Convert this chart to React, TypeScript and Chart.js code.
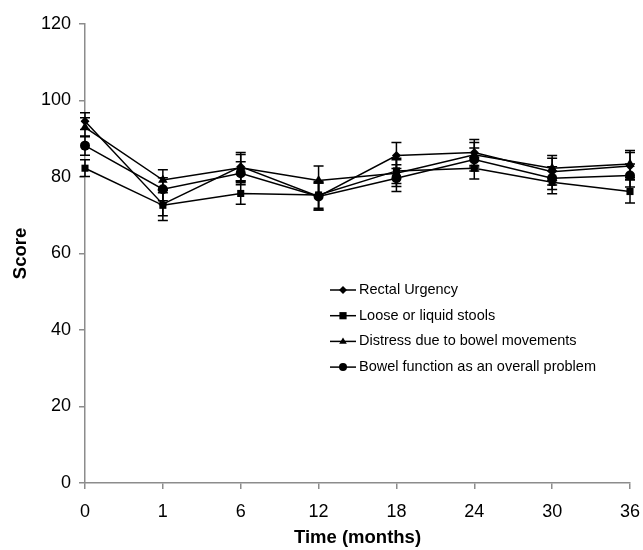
import React, { useEffect, useRef } from "react";
import { Chart, registerables } from "chart.js";

Chart.register(...registerables);

const timeLabels = ["0", "1", "6", "12", "18", "24", "30", "36"];
const seriesNames = [
  "Rectal Urgency",
  "Loose or liquid stools",
  "Distress due to bowel movements",
  "Bowel function as an overall problem",
];
const rectalUrgency = [94.6, 72.9, 82.7, 74.9, 85.6, 86.4, 81.4, 82.9];
const rectalUrgencyErr = [2.2, 3.0, 3.7, 3.5, 3.4, 3.4, 3.5, 3.5];
const looseStools = [82.3, 72.6, 75.7, 75.3, 81.6, 82.3, 78.6, 76.2];
const looseStoolsErr = [2.2, 4.0, 2.8, 3.5, 3.3, 2.8, 3.0, 3.0];
const distress = [93.0, 79.2, 82.4, 79.1, 81.0, 85.8, 82.3, 83.4];
const distressErr = [2.5, 2.7, 3.5, 3.8, 3.5, 3.2, 3.3, 3.5];
const bowelFunction = [88.2, 76.8, 81.0, 74.9, 79.7, 84.6, 79.7, 80.4];
const bowelFunctionErr = [2.5, 3.0, 3.0, 3.5, 3.5, 3.0, 3.0, 3.0];
const yTicks = [0, 20, 40, 60, 80, 100, 120];

const FONT = "'Liberation Sans', Arial, Helvetica, sans-serif";
const AXIS_GRAY = "#8c8c8c";

const seriesValues = [rectalUrgency, looseStools, distress, bowelFunction];
const seriesErrors = [rectalUrgencyErr, looseStoolsErr, distressErr, bowelFunctionErr];
const seriesStyles = ["rectRot", "rect", "triangle", "circle"];
const seriesRadius = [4.5, 5, 5.5, 5];

function drawMarker(ctx: CanvasRenderingContext2D, style: string, x: number, y: number, r: number) {
  ctx.beginPath();
  if (style === "rectRot") {
    ctx.moveTo(x, y - r);
    ctx.lineTo(x + r, y);
    ctx.lineTo(x, y + r);
    ctx.lineTo(x - r, y);
    ctx.closePath();
  } else if (style === "rect") {
    const s = r * 0.9;
    ctx.rect(x - s, y - s, 2 * s, 2 * s);
  } else if (style === "triangle") {
    ctx.moveTo(x, y - r);
    ctx.lineTo(x + r * 0.95, y + r * 0.6);
    ctx.lineTo(x - r * 0.95, y + r * 0.6);
    ctx.closePath();
  } else {
    ctx.arc(x, y, r, 0, Math.PI * 2);
  }
  ctx.fill();
}

const errorBarPlugin = {
  id: "errorBars",
  beforeDatasetsDraw(chart: any) {
    const ctx = chart.ctx as CanvasRenderingContext2D;
    const xs = chart.scales.x;
    const ys = chart.scales.y;
    ctx.save();
    ctx.strokeStyle = "#000";
    ctx.lineWidth = 1.5;
    seriesValues.forEach((vals, si) => {
      vals.forEach((v, i) => {
        const e = seriesErrors[si][i];
        const x = xs.getPixelForValue(i);
        const yTop = ys.getPixelForValue(v + e);
        const yBot = ys.getPixelForValue(v - e);
        ctx.beginPath();
        ctx.moveTo(x, yTop);
        ctx.lineTo(x, yBot);
        ctx.moveTo(x - 5, yTop);
        ctx.lineTo(x + 5, yTop);
        ctx.moveTo(x - 5, yBot);
        ctx.lineTo(x + 5, yBot);
        ctx.stroke();
      });
    });
    ctx.restore();
  },
};

const legendPlugin = {
  id: "insideLegend",
  afterDraw(chart: any) {
    const ctx = chart.ctx as CanvasRenderingContext2D;
    const area = chart.chartArea;
    const x0 = area.left + 245;
    const y0 = area.top + 266;
    ctx.save();
    ctx.font = `14.5px ${FONT}`;
    ctx.textBaseline = "middle";
    ctx.fillStyle = "#000";
    ctx.strokeStyle = "#000";
    ctx.lineWidth = 1.5;
    seriesNames.forEach((name, i) => {
      const y = y0 + i * 25.7;
      ctx.beginPath();
      ctx.moveTo(x0, y);
      ctx.lineTo(x0 + 26, y);
      ctx.stroke();
      drawMarker(ctx, seriesStyles[i], x0 + 13, y, 4);
      ctx.fillText(name, x0 + 29, y);
    });
    ctx.restore();
  },
};

export default function App() {
  const ref = useRef<HTMLCanvasElement | null>(null);
  useEffect(() => {
    if (!ref.current) return;
    const chart = new Chart(ref.current, {
      type: "line",
      data: {
        labels: timeLabels,
        datasets: seriesNames.map((name, i) => ({
          label: name,
          data: seriesValues[i],
          borderColor: "#000",
          backgroundColor: "#000",
          borderWidth: 1.5,
          pointStyle: seriesStyles[i] as any,
          pointRadius: seriesRadius[i],
          pointBackgroundColor: "#000",
          pointBorderColor: "#000",
          pointBorderWidth: 0,
          tension: 0,
        })),
      },
      options: {
        animation: false,
        responsive: false,
        maintainAspectRatio: false,
        layout: { padding: { top: 24, right: 13, bottom: 0, left: 0 } },
        plugins: {
          legend: { display: false },
          tooltip: { enabled: false },
        },
        scales: {
          x: {
            type: "category",
            offset: false,
            afterFit(scale: any) {
              scale.height = 67;
              scale.paddingLeft = 0;
              scale.paddingRight = 0;
            },
            border: { display: true, color: AXIS_GRAY, width: 1.5 },
            grid: {
              display: true,
              drawOnChartArea: false,
              drawTicks: true,
              tickLength: 6,
              color: AXIS_GRAY,
              lineWidth: 1.5,
            },
            ticks: {
              color: "#000",
              font: { family: FONT, size: 18 },
              padding: 12,
              maxRotation: 0,
              autoSkip: false,
            },
            title: {
              display: true,
              text: "Time (months)",
              color: "#000",
              font: { family: FONT, size: 18.5, weight: "bold" },
              padding: { top: 0, bottom: 1 },
            },
          },
          y: {
            type: "linear",
            min: 0,
            max: 120,
            afterFit(scale: any) {
              scale.width = 85;
            },
            afterBuildTicks(scale: any) {
              scale.ticks = yTicks.map((v) => ({ value: v }));
            },
            border: { display: true, color: AXIS_GRAY, width: 1.5 },
            grid: {
              display: true,
              drawOnChartArea: false,
              drawTicks: true,
              tickLength: 6,
              color: AXIS_GRAY,
              lineWidth: 1.5,
            },
            ticks: {
              color: "#000",
              font: { family: FONT, size: 18 },
              padding: 8,
            },
            title: {
              display: true,
              text: "Score",
              color: "#000",
              font: { family: FONT, size: 18.5, weight: "bold" },
              padding: { top: 10, bottom: 0 },
            },
          },
        },
      },
      plugins: [errorBarPlugin, legendPlugin],
    });
    return () => chart.destroy();
  }, []);
  return (
    <div style={{ position: "fixed", left: 0, top: 0, width: 643, height: 550, background: "#fff" }}>
      <canvas ref={ref} width={643} height={550} style={{ display: "block", width: 643, height: 550 }} />
    </div>
  );
}
